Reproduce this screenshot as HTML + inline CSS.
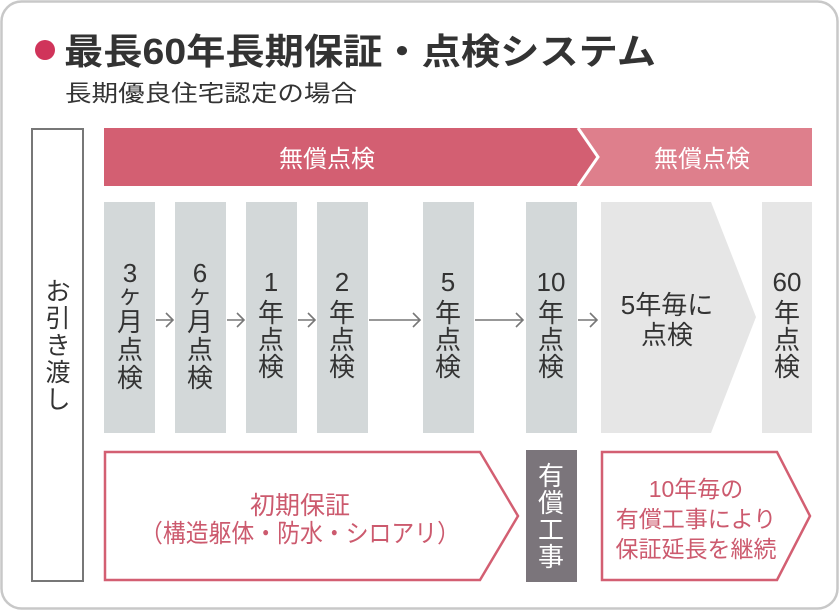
<!DOCTYPE html>
<html><head><meta charset="utf-8"><style>
html,body{margin:0;padding:0;background:#fff;}
svg{display:block;}
text{font-family:"Liberation Sans","Noto Sans CJK JP",sans-serif;}
</style></head><body>
<svg width="840" height="611" viewBox="0 0 840 611" xmlns="http://www.w3.org/2000/svg">
<rect x="1.5" y="1.5" width="836" height="607" rx="20" fill="#fff" stroke="#c8c8c8" stroke-width="2.5"/>
<circle cx="45" cy="50" r="10" fill="#d0345a"/>
<text x="64" y="64" font-size="36" font-weight="bold" fill="#333" textLength="592" lengthAdjust="spacingAndGlyphs">最長60年長期保証・点検システム</text>
<text x="65" y="101" font-size="23" fill="#333" textLength="292" lengthAdjust="spacingAndGlyphs">長期優良住宅認定の場合</text>
<rect x="32" y="129" width="51" height="452" fill="#fff" stroke="#777" stroke-width="2"/>
<g font-size="25" fill="#333" text-anchor="middle">
<text x="58" y="300">お</text><text x="58" y="327">引</text><text x="58" y="354">き</text><text x="58" y="381">渡</text><text x="58" y="408">し</text>
</g>
<!-- banner -->
<polygon points="577,128 812,128 812,186 577,186 597,157" fill="#de7f8c"/>
<polygon points="104,128 578,128 598,157 578,186 104,186" fill="#d35f72"/>
<polyline points="578,128 598,157 578,186" fill="none" stroke="#fff" stroke-width="3"/>
<text x="327" y="167" font-size="24" fill="#fff" text-anchor="middle">無償点検</text>
<text x="702" y="167" font-size="24" fill="#fff" text-anchor="middle">無償点検</text>
<!-- columns -->
<g fill="#d3d8d9">
<rect x="104" y="202" width="51" height="231"/><rect x="175" y="202" width="51" height="231"/>
<rect x="246" y="202" width="51" height="231"/><rect x="317" y="202" width="51" height="231"/>
<rect x="423" y="202" width="51" height="231"/><rect x="526" y="202" width="51" height="231"/>
</g>
<polygon points="601,202 711,202 756,317 711,433 601,433" fill="#e6e6e6"/>
<rect x="762" y="202" width="50" height="231" fill="#e6e6e6"/>
<!-- arrows -->
<g stroke="#777" stroke-width="1.6" fill="none">
<path d="M156,320H172M166,313L173,320L166,327"/>
<path d="M227,320H243M237,313L244,320L237,327"/>
<path d="M298,320H314M308,313L315,320L308,327"/>
<path d="M369,320H420M413,313L420,320L413,327"/>
<path d="M475,320H523M516,313L523,320L516,327"/>
<path d="M578,320H597M590,313L597,320L590,327"/>
</g>
<g font-size="26" fill="#333" text-anchor="middle">
<text x="130" y="282">3</text><text x="130" y="303" font-size="24">ヶ</text><text x="130" y="331">月</text><text x="130" y="359">点</text><text x="130" y="387">検</text>
<text x="200" y="282">6</text><text x="200" y="303" font-size="24">ヶ</text><text x="200" y="331">月</text><text x="200" y="359">点</text><text x="200" y="387">検</text>
<text x="271" y="291">1</text><text x="271" y="322">年</text><text x="271" y="349">点</text><text x="271" y="376">検</text>
<text x="342" y="291">2</text><text x="342" y="322">年</text><text x="342" y="349">点</text><text x="342" y="376">検</text>
<text x="448" y="291">5</text><text x="448" y="322">年</text><text x="448" y="349">点</text><text x="448" y="376">検</text>
<text x="551" y="291">10</text><text x="551" y="322">年</text><text x="551" y="349">点</text><text x="551" y="376">検</text>
<text x="667" y="314">5年毎に</text><text x="667" y="344">点検</text>
<text x="787" y="291">60</text><text x="787" y="322">年</text><text x="787" y="349">点</text><text x="787" y="376">検</text>
</g>
<!-- bottom -->
<polygon points="105,452 480,452 518,516 480,580 105,580" fill="#fff" stroke="#d35f72" stroke-width="2.5"/>
<text x="300" y="514" font-size="25" fill="#cc5a6e" text-anchor="middle">初期保証</text>
<text x="140" y="542" font-size="25" fill="#cc5a6e" textLength="320" lengthAdjust="spacingAndGlyphs">（構造躯体・防水・シロアリ）</text>
<rect x="526" y="450" width="51" height="132" fill="#7b757b"/>
<g font-size="26" fill="#fff" text-anchor="middle">
<text x="551" y="485">有</text><text x="551" y="512">償</text><text x="551" y="539">工</text><text x="551" y="566">事</text>
</g>
<polygon points="602,452 777,452 810,516 777,580 602,580" fill="#fff" stroke="#d35f72" stroke-width="2.5"/>
<g font-size="23" fill="#cc5a6e" text-anchor="middle">
<text x="696" y="497">10年毎の</text><text x="696" y="527">有償工事により</text><text x="696" y="557">保証延長を継続</text>
</g>
</svg>
</body></html>
